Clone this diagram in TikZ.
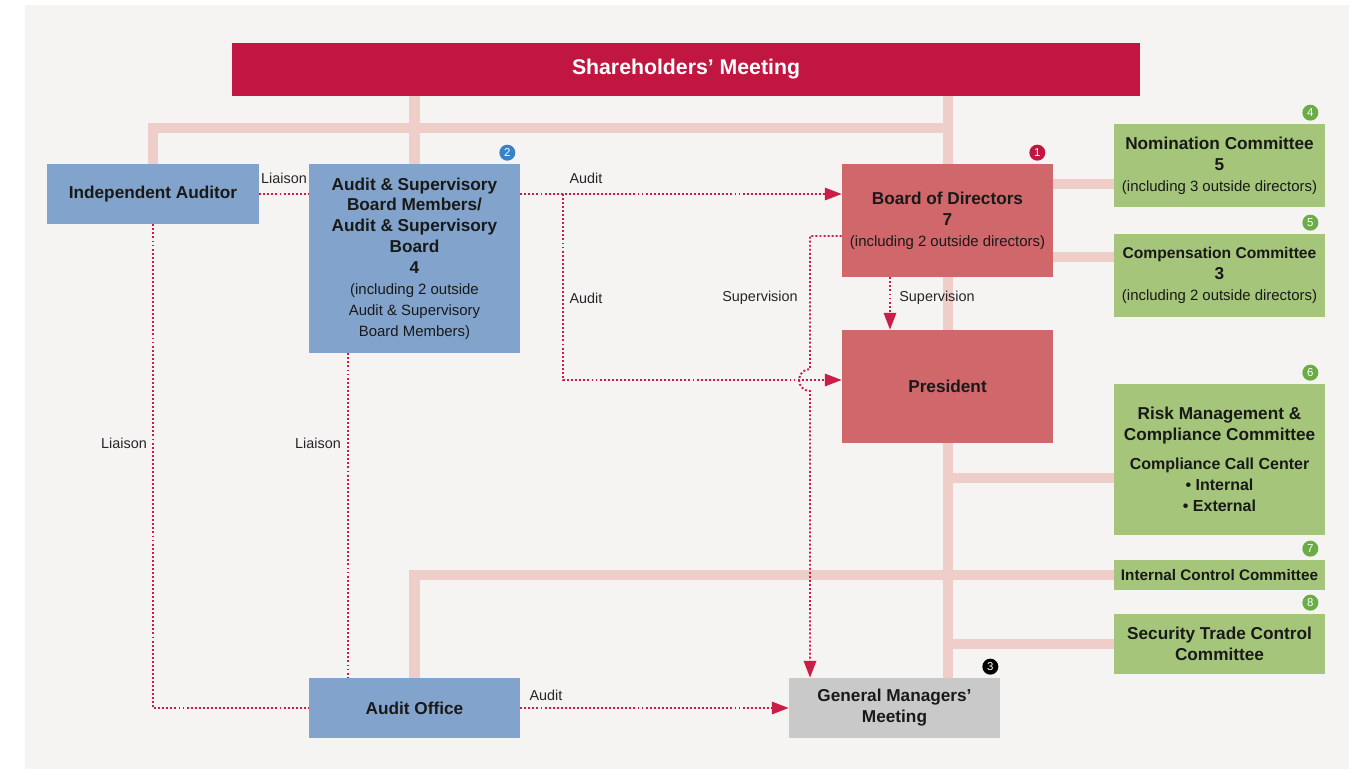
\documentclass[tikz,border=0pt]{standalone}
\usepackage{fontspec}
\setmainfont{Liberation Sans}
\usetikzlibrary{arrows.meta, calc, backgrounds}
\definecolor{panel}{RGB}{245, 244, 242}
\definecolor{crimson}{RGB}{192, 22, 63}
\definecolor{rose}{RGB}{208, 103, 107}
\definecolor{steel}{RGB}{130, 164, 204}
\definecolor{leaf}{RGB}{165, 198, 122}
\definecolor{ash}{RGB}{200, 201, 200}
\definecolor{trunkpink}{RGB}{239, 205, 200}
\definecolor{linkred}{RGB}{204, 28, 72}
\definecolor{badgeblue}{RGB}{59, 130, 196}
\definecolor{badgegreen}{RGB}{106, 173, 69}
\newcommand{\bigfont}{\fontsize{9.8}{11.9}\selectfont\bfseries}
\newcommand{\midfont}{\fontsize{9.1}{11.9}\selectfont\bfseries}
\newcommand{\smallfont}{\fontsize{8.5}{10.8}\selectfont\mdseries}
\tikzset{
  orgbox/.style={fill=#1, minimum width=4.22cm, align=center, inner sep=0pt,
                 font=\bigfont, text=black!90},
  trunk/.style={draw=trunkpink, line width=5.7pt},
  link/.style={draw=linkred, line width=1.1pt, dash pattern=on 1.1pt off 1.2pt},
  linkarrow/.style={link, -{Triangle[length=9.5pt, width=7pt]}},
  lbl/.style={font=\fontsize{8.2}{10}\selectfont, text=black!85, inner sep=1pt},
  badge/.style={circle, fill=#1, minimum size=0.32cm, inner sep=0pt, text=white,
                font=\fontsize{6.5}{7}\selectfont}
}

\begin{document}
\begin{tikzpicture}[x=0.02cm, y=-0.02cm]

  % boxes
  \node[orgbox=crimson, minimum width=18.16cm, minimum height=1.06cm, text=white,
        font=\fontsize{12.1}{14}\selectfont\bfseries] (share) at (686, 69.5) {Shareholders’ Meeting};
  \node[orgbox=steel, minimum width=4.24cm, minimum height=1.2cm] (indep) at (153, 194) {Independent Auditor};
  \node[orgbox=steel, minimum height=3.78cm] (asb) at (414.5, 258.5)
    {Audit \& Supervisory\\Board Members/\\Audit \& Supervisory\\Board\\4\\\smallfont (including 2 outside\\
     \smallfont Audit \& Supervisory\\\smallfont Board Members)};
  \node[orgbox=rose, minimum height=2.26cm] (board) at (947.5, 220.5)
    {Board of Directors\\7\\\smallfont (including 2 outside directors)};
  \node[orgbox=rose, minimum height=2.26cm] (pres) at (947.5, 386.5) {President};
  \node[orgbox=leaf, minimum height=1.66cm] (nom) at (1219.5, 165.5)
    {Nomination Committee\\5\\\smallfont (including 3 outside directors)};
  \node[orgbox=leaf, minimum height=1.66cm] (comp) at (1219.5, 275.5)
    {\fontsize{8.9}{11.9}\selectfont Compensation Committee\\3\\\smallfont (including 2 outside directors)};
  \node[orgbox=leaf, minimum height=3.02cm] (risk) at (1219.5, 459.5)
    {Risk Management \&\\Compliance Committee\\[4.5pt]\midfont Compliance Call Center\\
     \midfont • Internal\\\midfont • External};
  \node[orgbox=leaf, minimum height=0.6cm, font=\fontsize{8.7}{10}\selectfont\bfseries] (icc) at (1219.5, 575)
    {Internal Control Committee};
  \node[orgbox=leaf, minimum height=1.2cm] (stc) at (1219.5, 644) {Security Trade Control\\Committee};
  \node[orgbox=steel, minimum height=1.2cm] (aoff) at (414.5, 708) {Audit Office};
  \node[orgbox=ash, minimum height=1.2cm] (gmm) at (894.5, 708) {General Managers’\\Meeting};

  \foreach \nd/\num/\col/\off in {board/1/crimson/-16, asb/2/badgeblue/-13, gmm/3/black/-10,
                                  nom/4/badgegreen/-15, comp/5/badgegreen/-15, risk/6/badgegreen/-15,
                                  icc/7/badgegreen/-15, stc/8/badgegreen/-15} {
    \node[badge=\col] (badge\num) at ($(\nd.north east)+(\off, -11)$) {\num};
  }

  % reporting lines
  \coordinate (hub) at (947.5, 128);
  \coordinate (risktap) at (947.5, 478);
  \begin{pgfonlayer}{background}
    \fill[white] (0, 0) rectangle (1363, 769);
    \fill[panel] (25, 5) rectangle (1349, 769);
    \draw[trunk] (share.south -| board.north) -- (gmm.north -| board.north);
    \draw[trunk] (share.south -| asb.north) -- (asb.north);
    \draw[trunk] (indep.north) |- (hub);
    \draw[trunk] ($(board.north east)+(0, 20.5)$) coordinate (nomtap) -- (nomtap -| nom.west);
    \draw[trunk] ($(board.south east)+(0, -20.5)$) coordinate (comptap) -- (comptap -| comp.west);
    \draw[trunk] (risktap) -- (risktap -| risk.west);
    \draw[trunk] (aoff.north) |- (icc.west);
    \draw[trunk] (board.north |- stc.west) -- (stc.west);
  \end{pgfonlayer}

  % audit and liaison links
  \coordinate (split) at ($(indep.east -| asb.east)+(43, 0)$);
  \coordinate (supA) at ($(board.west)+(0, 15.5)$);
  \coordinate (hop) at (810, 380);
  \draw[link] (indep.east) -- (indep.east -| asb.west);
  \draw[linkarrow] (indep.east -| asb.east) -- (indep.east -| board.west);
  \draw[linkarrow] (split) |- ($(pres.west)+(0, -6.5)$);
  \draw[linkarrow] (supA) -| ($(hop)+(0, -11)$) arc[start angle=270, end angle=90, radius=11]
                   -- (hop |- gmm.north);
  \draw[linkarrow] ($(board.south)+(-57.5, 0)$) -- ($(pres.north)+(-57.5, 0)$);
  \draw[link] (indep.south) |- (aoff.west);
  \draw[link] ($(asb.south)+(-66.5, 0)$) -- ($(aoff.north)+(-66.5, 0)$);
  \draw[linkarrow] (aoff.east) -- (gmm.west);

  \node[lbl] (liaison1) at (284, 178) {Liaison};
  \node[lbl] (audit1) at (586, 178) {Audit};
  \node[lbl] (audit2) at (586, 298) {Audit};
  \node[lbl] (superv1) at (760, 298) {Supervision};
  \node[lbl] (superv2) at (937, 298) {Supervision};
  \node[lbl] (liaison2) at (124, 443) {Liaison};
  \node[lbl] (liaison3) at (318, 443) {Liaison};
  \node[lbl] (audit3) at (546, 695) {Audit};

\end{tikzpicture}
\end{document}
